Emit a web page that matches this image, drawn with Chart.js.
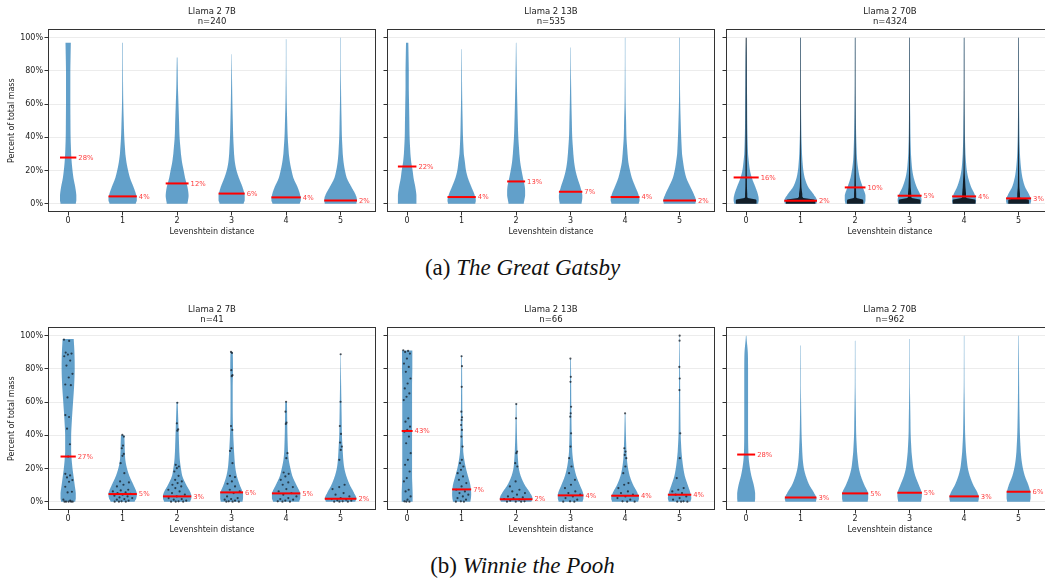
<!DOCTYPE html>
<html>
<head>
<meta charset="utf-8">
<script src="https://cdn.jsdelivr.net/npm/chart.js@4.4.0/dist/chart.umd.min.js"></script>
<style>
  body { margin: 0; background: #fff; width: 1045px; height: 582px; overflow: hidden; position: relative; }
  canvas { position: absolute; }
  .cap { position: absolute; left: 0; width: 1045px; text-align: center; font-family: "Liberation Serif", serif; font-size: 23px; color: #111; line-height: 26px; }
</style>
</head>
<body>
<div class="cap" style="top:255px">(a) <i>The Great Gatsby</i></div>
<div class="cap" style="top:553px">(b) <i>Winnie the Pooh</i></div>
<script>
// x categories and y ticks
const distances = [0, 1, 2, 3, 4, 5];
const percentTicks = [0, 20, 40, 60, 80, 100];
// y levels (percent) at which the violin half-widths below are read
const levels = [0, 2, 5, 10, 15, 20, 25, 30, 40, 50, 60, 70, 80, 90, 100];
// levels for the dense black point strip of the 70B Gatsby panel
const coreLevels = [0, 2.5, 3.5, 6, 10, 20, 40, 100];

// ---- The Great Gatsby ----
const gatsby7bWidths = [
  [0.14, 0.15, 0.15, 0.13, 0.10, 0.08, 0.065, 0.055, 0.045, 0.042, 0.04, 0.04, 0.04, 0.045, 0.05],
  [0.24, 0.26, 0.25, 0.20, 0.14, 0.10, 0.07, 0.05, 0.03, 0.02, 0.012, 0.008, 0.006, 0.005, 0.005],
  [0.19, 0.20, 0.21, 0.19, 0.15, 0.12, 0.09, 0.07, 0.045, 0.035, 0.025, 0.015, 0.01, 0.005, 0.003],
  [0.22, 0.24, 0.24, 0.20, 0.14, 0.09, 0.06, 0.045, 0.03, 0.022, 0.015, 0.01, 0.006, 0.003, 0.002],
  [0.25, 0.27, 0.26, 0.21, 0.14, 0.10, 0.07, 0.05, 0.03, 0.02, 0.012, 0.008, 0.005, 0.004, 0.004],
  [0.29, 0.30, 0.28, 0.20, 0.12, 0.08, 0.055, 0.04, 0.025, 0.018, 0.012, 0.008, 0.005, 0.004, 0.004]
];
const gatsby7bTops = [97, 97, 88, 90, 99, 100];
const gatsby7bMedians = [27.8, 4.4, 12.2, 6.1, 3.8, 2.0];

const gatsby13bWidths = [
  [0.17, 0.17, 0.17, 0.15, 0.12, 0.10, 0.075, 0.06, 0.045, 0.04, 0.035, 0.03, 0.03, 0.025, 0.02],
  [0.25, 0.26, 0.24, 0.18, 0.12, 0.08, 0.06, 0.04, 0.025, 0.018, 0.012, 0.008, 0.006, 0.004, 0.003],
  [0.14, 0.15, 0.165, 0.16, 0.13, 0.10, 0.075, 0.06, 0.04, 0.03, 0.022, 0.015, 0.01, 0.006, 0.003],
  [0.20, 0.21, 0.215, 0.18, 0.13, 0.09, 0.065, 0.05, 0.03, 0.022, 0.015, 0.01, 0.006, 0.004, 0.003],
  [0.25, 0.265, 0.25, 0.19, 0.13, 0.09, 0.06, 0.045, 0.025, 0.018, 0.01, 0.007, 0.005, 0.004, 0.004],
  [0.29, 0.30, 0.27, 0.20, 0.13, 0.09, 0.065, 0.045, 0.03, 0.02, 0.012, 0.008, 0.006, 0.005, 0.005]
];
const gatsby13bTops = [97, 93, 97, 94, 100, 100];
const gatsby13bMedians = [22.4, 4.0, 13.4, 7.2, 4.0, 2.0];

const gatsby70bWidths = [
  [0.22, 0.23, 0.22, 0.17, 0.11, 0.07, 0.05, 0.035, 0.025, 0.02, 0.018, 0.015, 0.013, 0.01, 0.003],
  [0.29, 0.30, 0.25, 0.14, 0.08, 0.05, 0.035, 0.025, 0.015, 0.01, 0.007, 0.006, 0.006, 0.006, 0.006],
  [0.18, 0.19, 0.19, 0.14, 0.09, 0.06, 0.04, 0.03, 0.02, 0.014, 0.01, 0.007, 0.006, 0.006, 0.005],
  [0.21, 0.22, 0.20, 0.13, 0.08, 0.05, 0.035, 0.025, 0.016, 0.012, 0.008, 0.006, 0.006, 0.006, 0.005],
  [0.21, 0.22, 0.20, 0.13, 0.08, 0.05, 0.035, 0.025, 0.016, 0.012, 0.008, 0.006, 0.006, 0.006, 0.005],
  [0.22, 0.23, 0.20, 0.12, 0.075, 0.05, 0.035, 0.025, 0.016, 0.012, 0.008, 0.006, 0.006, 0.006, 0.005]
];
// dense black strip of points inside the 70B violins (at coreLevels)
const gatsby70bCore = [
  [0.19, 0.18, 0.03, 0.02, 0.015, 0.012, 0.01, 0.008],
  [0.27, 0.25, 0.05, 0.03, 0.015, 0.008, 0.006, 0.004],
  [0.15, 0.14, 0.025, 0.02, 0.015, 0.01, 0.006, 0.004],
  [0.20, 0.19, 0.04, 0.03, 0.02, 0.01, 0.006, 0.004],
  [0.21, 0.20, 0.045, 0.035, 0.025, 0.01, 0.006, 0.004],
  [0.19, 0.18, 0.035, 0.025, 0.015, 0.01, 0.006, 0.004]
];
const gatsby70bTops = [100, 100, 100, 100, 100, 100];
const gatsby70bMedians = [15.8, 1.8, 9.8, 4.8, 4.4, 3.2];

// ---- Winnie the Pooh ----
const pooh7bWidths = [
  [0.13, 0.14, 0.14, 0.12, 0.10, 0.08, 0.065, 0.055, 0.055, 0.07, 0.09, 0.11, 0.12, 0.115, 0.10],
  [0.22, 0.25, 0.26, 0.20, 0.13, 0.08, 0.05, 0.04, 0.03, 0, 0, 0, 0, 0, 0],
  [0.24, 0.26, 0.25, 0.17, 0.10, 0.07, 0.05, 0.04, 0.03, 0.02, 0.01, 0, 0, 0, 0],
  [0.20, 0.21, 0.21, 0.15, 0.10, 0.07, 0.055, 0.045, 0.03, 0.022, 0.02, 0.02, 0.025, 0.02, 0],
  [0.24, 0.26, 0.26, 0.19, 0.12, 0.08, 0.05, 0.035, 0.025, 0.02, 0.015, 0, 0, 0, 0],
  [0.27, 0.29, 0.25, 0.17, 0.11, 0.07, 0.05, 0.04, 0.025, 0.02, 0.015, 0.01, 0.006, 0.003, 0]
];
const pooh7bTops = [98, 40, 60, 90, 60, 89];
const pooh7bMedians = [27.2, 4.6, 3.2, 5.6, 5.0, 1.8];
const pooh7bPoints = [
  [97.6, 96.8, 89.8, 89.2, 88.6, 87.6, 85, 82, 77, 74.8, 70.6, 70.2, 62.8, 52.2, 51, 44, 34.6, 27.2, 16.8, 15.8, 14.6, 13, 12, 9, 6, 5.6, 1.2, 0.6, 0, 0, 0, 0, 0],
  [40.2, 39.2, 33.8, 32.2, 28.8, 27.6, 23.2, 17.2, 12.2, 11.6, 10.2, 9.2, 7.2, 6.8, 6.2, 5.6, 5.2, 4.8, 4.2, 3.6, 3.2, 2.6, 2.2, 1.6, 1.2, 0.6, 0.2, 0, 0, 0],
  [59.6, 47.2, 43.6, 42.8, 22.2, 21.2, 20.2, 18.2, 15.6, 13.2, 12.2, 11.2, 10.2, 9.2, 8.2, 7.2, 6.2, 5.2, 4.2, 3.2, 2.2, 1.6, 1.2, 0.6, 0.2, 0, 0, 0],
  [90.2, 89.6, 79.2, 76.2, 75.6, 45.6, 43.2, 32.2, 30.6, 23.2, 15.6, 14.8, 12.2, 10.8, 9.2, 7.2, 6.2, 5.2, 3.2, 2.2, 1.6, 1.2, 0.6, 0.2, 0, 0, 0],
  [60.2, 54.2, 47.6, 46.8, 29.2, 26.2, 17.6, 16.8, 15.2, 13.2, 11.6, 10.2, 8.8, 7.6, 6.2, 5.2, 4.2, 3.2, 2.2, 1.6, 1.2, 0.6, 0.2, 0, 0],
  [88.8, 60.2, 45.6, 40.8, 35.6, 33.2, 31.2, 25.2, 10.2, 8.8, 7.6, 5.2, 4.2, 3.2, 2.2, 1.6, 1.2, 0.8, 0.6, 0.2, 0, 0, 0]
];

const pooh13bWidths = [
  [0.10, 0.10, 0.10, 0.095, 0.09, 0.09, 0.09, 0.09, 0.09, 0.09, 0.09, 0.09, 0.095, 0.095, 0.095],
  [0.16, 0.17, 0.175, 0.16, 0.12, 0.08, 0.05, 0.03, 0.02, 0.015, 0.012, 0.01, 0.008, 0.005, 0],
  [0.28, 0.30, 0.26, 0.16, 0.09, 0.05, 0.035, 0.025, 0.015, 0.01, 0.006, 0, 0, 0, 0],
  [0.22, 0.235, 0.23, 0.17, 0.11, 0.07, 0.045, 0.03, 0.02, 0.015, 0.012, 0.01, 0.008, 0.005, 0],
  [0.24, 0.255, 0.23, 0.15, 0.09, 0.055, 0.035, 0.025, 0.015, 0.008, 0, 0, 0, 0, 0],
  [0.20, 0.215, 0.20, 0.15, 0.10, 0.07, 0.05, 0.035, 0.02, 0.015, 0.012, 0.01, 0.008, 0.006, 0.003]
];
const pooh13bTops = [91, 88, 59, 86, 53, 100];
const pooh13bMedians = [42.6, 7.4, 1.5, 3.8, 3.6, 4.2];
const pooh13bPoints = [
  [91.2, 90.8, 90.2, 89.2, 86.2, 83.2, 81.2, 78.2, 74.2, 71.2, 68.2, 65.2, 63.2, 61.2, 50.2, 48.2, 45.2, 43.2, 42.2, 39.2, 35.2, 29.2, 25.2, 22.2, 18.2, 14.2, 12.2, 7.2, 6.2, 3.2, 1.2, 0.2, 0, 0],
  [87.6, 81.6, 69.2, 54.2, 50.8, 49.2, 46.2, 43.2, 39.2, 33.2, 25.2, 23.2, 21.2, 19.2, 17.2, 15.2, 13.2, 11.2, 9.2, 7.2, 6.2, 5.2, 4.2, 3.2, 2.2, 1.2, 0.2, 0, 0],
  [58.8, 50.2, 30.2, 29.2, 23.2, 21.2, 12.2, 9.2, 7.2, 6.2, 5.2, 4.2, 3.2, 2.6, 2.2, 1.6, 1.2, 0.6, 0.2, 0, 0, 0],
  [86.2, 75.2, 72.2, 57.2, 53.2, 51.2, 41.2, 33.2, 26.2, 21.2, 17.2, 13.2, 10.2, 8.2, 6.2, 5.2, 4.2, 3.2, 2.2, 1.2, 0.2, 0, 0],
  [53.2, 32.2, 30.2, 28.2, 26.2, 21.2, 17.2, 11.2, 10.2, 8.2, 6.2, 5.2, 4.2, 3.2, 2.2, 1.2, 0.2, 0, 0],
  [100, 97, 81.2, 74.2, 67.2, 41.2, 26.2, 14.2, 8.2, 7.2, 6.2, 5.2, 4.2, 3.2, 2.2, 1.2, 0.2, 0, 0, 0]
];

const pooh70bWidths = [
  [0.16, 0.165, 0.165, 0.14, 0.10, 0.07, 0.05, 0.04, 0.035, 0.035, 0.035, 0.035, 0.035, 0.03, 0.005],
  [0.28, 0.29, 0.25, 0.16, 0.10, 0.06, 0.04, 0.03, 0.018, 0.012, 0.008, 0.005, 0.005, 0.004, 0.004],
  [0.23, 0.24, 0.24, 0.17, 0.11, 0.07, 0.05, 0.035, 0.02, 0.015, 0.01, 0.006, 0.005, 0.004, 0.004],
  [0.21, 0.22, 0.225, 0.17, 0.11, 0.07, 0.05, 0.035, 0.02, 0.015, 0.01, 0.006, 0.005, 0.004, 0.004],
  [0.26, 0.27, 0.25, 0.17, 0.11, 0.07, 0.05, 0.035, 0.02, 0.014, 0.01, 0.006, 0.005, 0.004, 0.004],
  [0.21, 0.22, 0.22, 0.18, 0.12, 0.08, 0.055, 0.04, 0.025, 0.018, 0.013, 0.01, 0.008, 0.006, 0.004]
];
const pooh70bTops = [100, 94, 97, 98, 100, 100];
const pooh70bMedians = [28.4, 2.6, 5.0, 5.4, 3.2, 6.0];

const FONT = '"DejaVu Sans", sans-serif';
const TEXT = '#222';
const VIOLIN = 'rgba(31,119,180,0.7)';

// half-width of a violin at y (smoothed between the read levels)
function halfWidth(w, y, lv = levels) {
  if (y <= lv[0]) return w[0];
  let k = 0;
  while (k < lv.length - 2 && y > lv[k + 1]) k++;
  const t = Math.min(1, (y - lv[k]) / (lv[k + 1] - lv[k]));
  const p0 = w[Math.max(0, k - 1)], p1 = w[k], p2 = w[k + 1], p3 = w[Math.min(w.length - 1, k + 2)];
  const t2 = t * t, t3 = t2 * t;
  const v = 0.5 * (2 * p1 + (-p0 + p2) * t + (2 * p0 - 5 * p1 + 4 * p2 - p3) * t2 + (-p0 + 3 * p1 - 3 * p2 + p3) * t3);
  return Math.max(Math.min(p1, p2), Math.min(Math.max(p1, p2), v));
}

function violinPath(ctx, xs, ys, x0, w, top, lv) {
  const samples = [];
  for (let y = 0; y < top; y += 0.5) samples.push([y, halfWidth(w, y, lv)]);
  samples.push([top, halfWidth(w, top, lv)]);
  ctx.beginPath();
  samples.forEach(([y, h], k) => {
    const px = xs.getPixelForValue(x0 - h), py = ys.getPixelForValue(y);
    if (k === 0) ctx.moveTo(px, py); else ctx.lineTo(px, py);
  });
  for (let k = samples.length - 1; k >= 0; k--) {
    const [y, h] = samples[k];
    ctx.lineTo(xs.getPixelForValue(x0 + h), ys.getPixelForValue(y));
  }
  ctx.closePath();
}

const violinPlugin = {
  id: 'violins',
  beforeDatasetsDraw(chart) {
    const p = chart.options.plugins.violins;
    const {ctx, chartArea: a} = chart;
    const xs = chart.scales.x, ys = chart.scales.y;
    ctx.save();
    ctx.beginPath(); ctx.rect(a.left, a.top, a.right - a.left, a.bottom - a.top); ctx.clip();
    distances.forEach((d, i) => {
      violinPath(ctx, xs, ys, d, p.widths[i], p.tops[i], levels);
      ctx.fillStyle = VIOLIN;
      ctx.fill();
      if (p.core) {
        violinPath(ctx, xs, ys, d, p.core[i], p.tops[i], coreLevels);
        ctx.fillStyle = 'rgba(8,12,18,0.88)';
        ctx.fill();
      }
    });
    ctx.restore();
  },
  afterDatasetsDraw(chart) {
    const p = chart.options.plugins.violins;
    const {ctx, chartArea: a} = chart;
    const xs = chart.scales.x, ys = chart.scales.y;
    ctx.save();
    distances.forEach((d, i) => {
      const h = Math.max(...p.widths[i]);
      const y = ys.getPixelForValue(p.medians[i]);
      const x1 = xs.getPixelForValue(d - h), x2 = xs.getPixelForValue(d + h);
      ctx.strokeStyle = '#ff0000';
      ctx.lineWidth = 2;
      ctx.beginPath(); ctx.moveTo(x1, y); ctx.lineTo(x2, y); ctx.stroke();
      ctx.fillStyle = '#ff4040';
      ctx.font = '6.8px ' + FONT;
      ctx.textBaseline = 'middle';
      ctx.textAlign = 'left';
      ctx.fillText(Math.round(p.medians[i]) + '%', x2 + 2, y + 0.5);
    });
    // full frame around the axes
    ctx.strokeStyle = '#333';
    ctx.lineWidth = 1;
    ctx.strokeRect(Math.round(a.left) + 0.5, Math.round(a.top) + 0.5, Math.round(a.right - a.left) - 1, Math.round(a.bottom - a.top) - 1);
    ctx.restore();
  }
};

function pointData(p) {
  const out = [];
  if (!p.points) return out;
  p.points.forEach((ys, i) => {
    ys.forEach((y, k) => {
      const f = (k * 0.618034 + i * 0.37) % 1;
      out.push({x: distances[i] + (f * 2 - 1) * 0.75 * halfWidth(p.widths[i], y), y: y});
    });
  });
  return out;
}

const panels = [
  {model: 'Llama 2 7B', n: 240, widths: gatsby7bWidths, tops: gatsby7bTops, medians: gatsby7bMedians, left: 48, top: 0, yLabels: true},
  {model: 'Llama 2 13B', n: 535, widths: gatsby13bWidths, tops: gatsby13bTops, medians: gatsby13bMedians, left: 387, top: 0},
  {model: 'Llama 2 70B', n: 4324, widths: gatsby70bWidths, tops: gatsby70bTops, medians: gatsby70bMedians, core: gatsby70bCore, left: 726, top: 0},
  {model: 'Llama 2 7B', n: 41, widths: pooh7bWidths, tops: pooh7bTops, medians: pooh7bMedians, points: pooh7bPoints, left: 48, top: 298, yLabels: true},
  {model: 'Llama 2 13B', n: 66, widths: pooh13bWidths, tops: pooh13bTops, medians: pooh13bMedians, points: pooh13bPoints, left: 387, top: 298},
  {model: 'Llama 2 70B', n: 962, widths: pooh70bWidths, tops: pooh70bTops, medians: pooh70bMedians, left: 726, top: 298}
];

panels.forEach(p => {
  const cv = document.createElement('canvas');
  cv.width = 388; cv.height = 240;
  cv.style.left = (p.left - 48) + 'px';
  cv.style.top = p.top + 'px';
  document.body.appendChild(cv);
  const font = {family: FONT, size: 8};
  new Chart(cv, {
    type: 'scatter',
    data: {datasets: [{
      data: pointData(p),
      pointRadius: 1.1,
      pointBackgroundColor: 'rgba(20,28,38,0.75)',
      pointBorderWidth: 0
    }]},
    options: {
      responsive: false,
      animation: false,
      devicePixelRatio: 1,
      layout: {padding: {right: 12}},
      plugins: {
        legend: {display: false},
        tooltip: {enabled: false},
        title: {
          display: true, fullSize: false,
          text: [p.model, 'n=' + p.n],
          font: {family: FONT, size: 8.5, weight: 'normal', lineHeight: 1.18},
          color: TEXT,
          padding: {top: 7, bottom: 2.3}
        },
        violins: p
      },
      scales: {
        x: {
          type: 'linear', min: -0.37, max: 5.65,
          afterBuildTicks: s => { s.ticks = distances.map(v => ({value: v})); },
          afterFit: s => { s.height = 28; },
          grid: {drawOnChartArea: false, tickLength: 3.5, tickColor: '#333'},
          border: {display: false},
          ticks: {font, color: TEXT, padding: 0.5, maxRotation: 0, callback: v => v},
          title: {display: true, text: 'Levenshtein distance', font, color: TEXT, padding: {top: 0, bottom: 3.5}}
        },
        y: {
          min: -5, max: 105,
          afterBuildTicks: s => { s.ticks = percentTicks.map(v => ({value: v})); },
          afterFit: s => { s.width = 48; },
          grid: {color: '#ececec', tickLength: 3.5, tickColor: '#333'},
          border: {display: false},
          ticks: {font, color: TEXT, padding: 1.5, callback: v => p.yLabels ? v + '%' : ''},
          title: {display: !!p.yLabels, text: 'Percent of total mass', font, color: TEXT, padding: {top: 6.9, bottom: 0}}
        }
      }
    },
    plugins: [violinPlugin]
  });
});
</script>
</body>
</html>
